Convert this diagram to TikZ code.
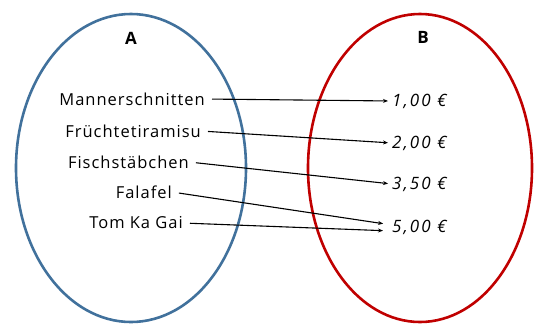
\documentclass[tikz,border=0pt]{standalone}
\usepackage{fontspec}
\setmainfont{Open Sans}
\newfontfamily\handfont[LetterSpace=6]{Open Sans}
\newfontfamily\pricefont[LetterSpace=12]{Open Sans}
\usetikzlibrary{arrows.meta}
\definecolor{setblue}{RGB}{65,113,156}
\definecolor{setred}{RGB}{192,0,0}
\tikzset{
  setA/.style={draw=setblue, line width=2.6pt},
  setB/.style={draw=setred, line width=2.6pt},
  setname/.style={font=\fontsize{17}{19}\selectfont\bfseries, inner sep=0pt},
  item/.style={font=\handfont\fontsize{16.5}{19}\selectfont, inner sep=0pt, anchor=east},
  price/.style={font=\pricefont\fontsize{17}{19}\selectfont\itshape, inner sep=0pt, anchor=west},
  maparrow/.style={line width=1.1pt, -{Stealth[length=5pt,width=4pt]}, shorten <=7pt}
}
\begin{document}
\begin{tikzpicture}[x=1pt,y=-1pt]
\useasboundingbox (0,0) rectangle (535,325);
% the two sets
\draw[setA] (131,168) ellipse [x radius=115, y radius=154];
\draw[setB] (420,168) ellipse [x radius=112, y radius=154];
\node[setname] (A) at (131,38) {A};
\node[setname] (B) at (423,37) {B};
% elements of A
\node[item] (m) at (205,99) {Mannerschnitten};
\node[item] (f) at (201,131) {Früchtetiramisu};
\node[item] (s) at (189,162) {Fischstäbchen};
\node[item] (l) at (172,192) {Falafel};
\node[item] (t) at (183,223) {Tom Ka Gai};
% elements of B
\node[price] (p1) at (392,101) {1,00 €};
\node[price] (p2) at (392,143) {2,00 €};
\node[price] (p3) at (392,184) {3,50 €};
\node[price] (p4) at (392,227) {5,00 €};
% the mapping
\draw[maparrow, shorten >=4pt] (m.east) -- (p1.west);
\draw[maparrow, shorten >=4pt] (f.east) -- (p2.west);
\draw[maparrow, shorten >=4pt] (s.east) -- (p3.west);
\draw[maparrow, shorten >=9pt] (l.east) -- ([yshift=2pt]p4.west);
\draw[maparrow, shorten >=9pt] (t.east) -- ([yshift=-4pt]p4.west);
\end{tikzpicture}
\end{document}
